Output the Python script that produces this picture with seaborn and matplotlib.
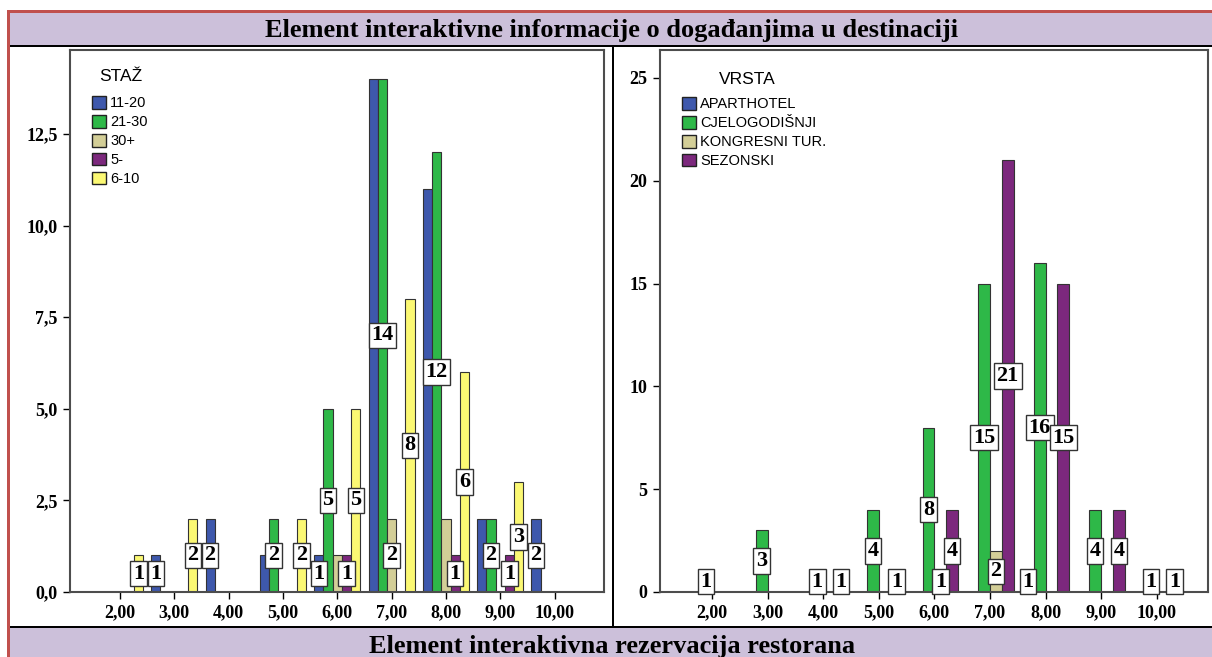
import pandas as pd
import matplotlib.pyplot as plt
import seaborn as sns
from matplotlib.patches import Patch, Rectangle

# --- data ---
categories = ['2,00', '3,00', '4,00', '5,00', '6,00', '7,00', '8,00', '9,00', '10,00']

staz_levels = ['11-20', '21-30', '30+', '5-', '6-10']
staz_11_20 = [0, 1, 2, 1, 1, 14, 11, 2, 2]
staz_21_30 = [0, 0, 0, 2, 5, 14, 12, 2, 0]
staz_30_plus = [0, 0, 0, 0, 1, 2, 2, 0, 0]
staz_5_minus = [0, 0, 0, 0, 1, 0, 1, 1, 0]
staz_6_10 = [1, 2, 0, 2, 5, 8, 6, 3, 0]

vrsta_levels = ['APARTHOTEL', 'CJELOGODIŠNJI', 'KONGRESNI TUR.', 'SEZONSKI']
vrsta_aparthotel = [0, 0, 0, 0, 0, 0, 1, 0, 0]
vrsta_cjelogodisnji = [1, 3, 1, 4, 8, 15, 16, 4, 1]
vrsta_kongresni = [0, 0, 0, 0, 1, 2, 0, 0, 0]
vrsta_sezonski = [0, 0, 1, 1, 4, 21, 15, 4, 1]

staz_ticks = [0, 2.5, 5, 7.5, 10, 12.5]
staz_ticklabels = ['0,0', '2,5', '5,0', '7,5', '10,0', '12,5']
vrsta_ticks = [0, 5, 10, 15, 20, 25]
vrsta_ticklabels = ['0', '5', '10', '15', '20', '25']

title_top = 'Element interaktivne informacije o događanjima u destinaciji'
title_bottom = 'Element interaktivna rezervacija restorana'

spss_colors = ['#3e58ac', '#2eb848', '#d3ce97', '#7c287d', '#fbf873']

sns.set_style('white')
plt.rcParams['font.family'] = ['Liberation Serif', 'DejaVu Serif']
plt.rcParams['text.color'] = 'black'
plt.rcParams['xtick.color'] = 'black'
plt.rcParams['ytick.color'] = 'black'

W, H = 1212, 657
fig = plt.figure(figsize=(W / 100, H / 100), dpi=100, facecolor='white')


def box(x0, y0, x1, y1, color):
    # pixel box measured from the top-left corner of the picture
    fig.add_artist(Rectangle((x0 / W, 1 - y1 / H), (x1 - x0) / W, (y1 - y0) / H,
                             transform=fig.transFigure, color=color, lw=0, zorder=0))


# table frame around the two charts
box(10, 13, W, 45, '#ccc0da')
box(10, 628, W, H, '#ccc0da')
box(8, 10, W, 13, '#c0504d')
box(7, 10, 10, H, '#c0504d')
box(10, 45, W, 47, 'black')
box(10, 626, W, 628, 'black')
box(612, 47, 614, 626, 'black')
fig.text(612 / W, 1 - 31 / H, title_top, ha='center', va='center',
         fontsize=19, fontweight='bold')
fig.text(612 / W, 1 - 647 / H, title_bottom, ha='center', va='center',
         fontsize=19, fontweight='bold')


def clustered(ax, levels, series, colors, legend_title, ymax, yticks, yticklabels,
              xlim, leg_anchor, title_pos):
    rows = []
    for lev, vals in zip(levels, series):
        for cat, v in zip(categories, vals):
            if v > 0:
                rows.append({'cat': cat, 'count': v, 'group': lev})
    df = pd.DataFrame(rows)
    sns.barplot(data=df, x='cat', y='count', hue='group', order=categories,
                hue_order=levels, palette=colors, saturation=1, width=0.85,
                errorbar=None, edgecolor='#333333', linewidth=0.8,
                legend=False, ax=ax)

    # value labels in the middle of each bar, SPSS style
    labels = []
    for hi, cont in enumerate(ax.containers):
        anns = ax.bar_label(cont, fmt='%d', label_type='center', fontsize=16,
                            fontweight='bold', color='black',
                            bbox=dict(boxstyle='square,pad=0.12', fc='white',
                                      ec='#333333', lw=1))
        for p, a in zip(cont.patches, anns):
            ci = round(p.get_x() + p.get_width() / 2)
            labels.append(((ci, hi), a))

    ax.set_xlim(*xlim)
    ax.set_ylim(0, ymax)
    ax.set_yticks(yticks)
    ax.set_yticklabels(yticklabels)
    ax.set_xlabel('')
    ax.set_ylabel('')
    for lab in ax.get_xticklabels() + ax.get_yticklabels():
        lab.set_fontweight('bold')
        lab.set_fontsize(13)
    ax.tick_params(axis='both', direction='out', length=5, width=1,
                   color='black', pad=4, left=True, bottom=True)
    for s in ax.spines.values():
        s.set_visible(True)
        s.set_color('#4d4d4d')
        s.set_linewidth(1.5)

    handles = [Patch(facecolor=c, edgecolor='#222222', lw=1) for c in colors]
    ax.legend(handles, levels, loc='upper left',
              bbox_to_anchor=leg_anchor, frameon=False, borderpad=0,
              borderaxespad=0, handlelength=0.95, handleheight=0.95,
              handletextpad=0.3, labelspacing=0.32,
              prop={'family': 'Liberation Sans', 'size': 10.5})
    ax.text(title_pos[0], title_pos[1], legend_title, transform=ax.transAxes,
            ha='center', va='center', fontsize=12.5, family='Liberation Sans')
    return labels


ax1 = fig.add_axes([70 / W, 65 / H, 534 / W, 542 / H])
ax2 = fig.add_axes([660 / W, 65 / H, 548 / W, 542 / H])

lab1 = clustered(ax1, staz_levels,
                 [staz_11_20, staz_21_30, staz_30_plus, staz_5_minus, staz_6_10],
                 spss_colors, 'STAŽ', 14.79, staz_ticks, staz_ticklabels,
                 (-0.92, 8.91), ((92 - 70) / 534, (592 - 96) / 542),
                 ((121 - 70) / 534, (592 - 76) / 542))
lab2 = clustered(ax2, vrsta_levels,
                 [vrsta_aparthotel, vrsta_cjelogodisnji, vrsta_kongresni, vrsta_sezonski],
                 spss_colors[:4], 'VRSTA', 26.36, vrsta_ticks, vrsta_ticklabels,
                 (-0.935, 8.92), ((682 - 660) / 548, (592 - 97) / 542),
                 ((747 - 660) / 548, (592 - 79) / 542))

# hide labels that collide: the later bar in a cluster keeps its label
fig.canvas.draw()
for labels in (lab1, lab2):
    kept = []
    for _, ann in sorted(labels, key=lambda t: t[0], reverse=True):
        bb = ann.get_bbox_patch().get_window_extent()
        bb = bb.expanded((bb.width - 5) / bb.width, (bb.height - 3) / bb.height)
        if any(bb.overlaps(k) for k in kept):
            ann.set_visible(False)
        else:
            kept.append(bb)

fig.savefig('out.png', dpi=100, facecolor='white')
